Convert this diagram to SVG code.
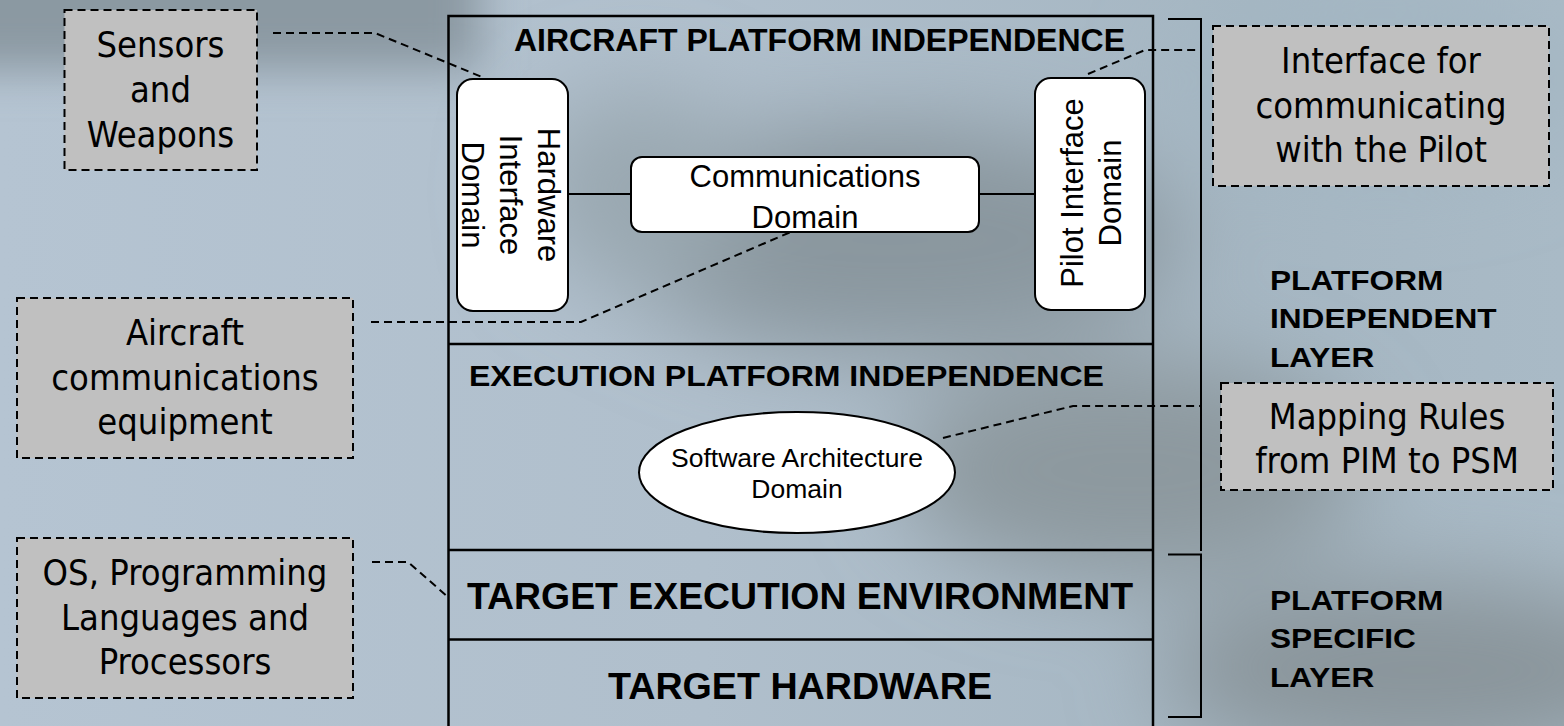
<svg xmlns="http://www.w3.org/2000/svg" width="1564" height="726" viewBox="0 0 1564 726">
  <defs>
    <linearGradient id="bgBase" x1="0" y1="0" x2="1" y2="0">
      <stop offset="0" stop-color="#b5c4d2"/>
      <stop offset="0.45" stop-color="#b0bfcc"/>
      <stop offset="0.8" stop-color="#a5b6c2"/>
      <stop offset="1" stop-color="#a9bac6"/>
    </linearGradient>
    <filter id="haze" x="-50%" y="-50%" width="200%" height="200%">
      <feGaussianBlur stdDeviation="45"/>
    </filter>
    <filter id="softEdge" x="-50%" y="-50%" width="200%" height="200%">
      <feGaussianBlur stdDeviation="22"/>
    </filter>
    <style>
      .frame { fill: none; stroke: #000; stroke-width: 2.5; }
      .node { fill: #fff; stroke: #000; stroke-width: 2; }
      .note { fill: #c0c0c0; stroke: #000; stroke-width: 2; stroke-dasharray: 8 5; }
      .link { fill: none; stroke: #000; stroke-width: 2; }
      .dash { fill: none; stroke: #000; stroke-width: 2; stroke-dasharray: 8 5; }
      .head { font-family: "Liberation Sans", Arial, sans-serif; font-weight: bold; fill: #000; }
      .label { font-family: "Liberation Sans", Arial, sans-serif; fill: #000; text-anchor: middle; }
      .noteText { font-family: "DejaVu Sans", Tahoma, Verdana, sans-serif; font-stretch: semi-condensed; font-size: 36px; fill: #000; text-anchor: middle; }
      .side { font-family: "Liberation Sans", Arial, sans-serif; font-weight: bold; font-size: 28px; fill: #000; }
    </style>
  </defs>

  <!-- backdrop -->
  <g id="backdrop">
    <rect x="0" y="0" width="1564" height="726" fill="url(#bgBase)"/>
    <g filter="url(#haze)">
      <ellipse cx="890" cy="240" rx="290" ry="115" fill="#8a979f"/>
      <ellipse cx="1130" cy="470" rx="230" ry="110" fill="#8d999f"/>
      <ellipse cx="1420" cy="670" rx="260" ry="90" fill="#8a959b"/>
      <ellipse cx="640" cy="190" rx="110" ry="100" fill="#9aa8b1"/>
      <ellipse cx="1380" cy="80" rx="200" ry="90" fill="#a3b6c2"/>
    </g>
    <rect x="-120" y="-120" width="600" height="190" fill="#8b99a2" filter="url(#softEdge)"/>
  </g>

  <!-- layer frame -->
  <g id="layers">
    <rect class="frame" x="448.5" y="16" width="704.5" height="720"/>
    <line class="frame" x1="448.5" y1="344" x2="1153" y2="344"/>
    <line class="frame" x1="448.5" y1="550" x2="1153" y2="550"/>
    <line class="frame" x1="448.5" y1="639.5" x2="1153" y2="639.5"/>
    <text class="head" x="514" y="51" font-size="32" textLength="611" lengthAdjust="spacingAndGlyphs">AIRCRAFT PLATFORM INDEPENDENCE</text>
    <text class="head" x="469" y="386" font-size="30" textLength="635" lengthAdjust="spacingAndGlyphs">EXECUTION PLATFORM INDEPENDENCE</text>
    <text class="head" x="467" y="609" font-size="37" textLength="666" lengthAdjust="spacingAndGlyphs">TARGET EXECUTION ENVIRONMENT</text>
    <text class="head" x="608" y="699" font-size="37" textLength="384" lengthAdjust="spacingAndGlyphs">TARGET HARDWARE</text>
  </g>

  <!-- layer brackets -->
  <g id="brackets">
    <polyline class="link" points="1168,19 1201,19 1201,551"/>
    <polyline class="link" points="1168,554.5 1201,554.5 1201,717 1168,717"/>
    <g transform="translate(1270 0) scale(1.13 1)">
      <text class="side" x="0" y="290">PLATFORM</text>
      <text class="side" x="0" y="328.5">INDEPENDENT</text>
      <text class="side" x="0" y="367">LAYER</text>
      <text class="side" x="0" y="610">PLATFORM</text>
      <text class="side" x="0" y="648.5">SPECIFIC</text>
      <text class="side" x="0" y="687">LAYER</text>
    </g>
  </g>

  <!-- connectors -->
  <g id="connectors">
    <line class="link" x1="568" y1="194" x2="631" y2="194"/>
    <line class="link" x1="979" y1="194" x2="1035" y2="194"/>
    <polyline class="dash" points="273,33 375,33 482,77"/>
    <polyline class="dash" points="1088,74 1145,50 1199,50"/>
    <polyline class="dash" points="371,322 581,322 793,231"/>
    <polyline class="dash" points="943,438 1073,406 1200,406"/>
    <polyline class="dash" points="372,562 408,562 448,597"/>
  </g>

  <!-- domain nodes -->
  <g id="hardware-interface-domain">
    <rect class="node" x="457" y="79" width="111" height="232" rx="16"/>
    <g class="label" font-size="31">
      <text transform="translate(538 195) rotate(90)">Hardware</text>
      <text transform="translate(500 195) rotate(90)">Interface</text>
      <text transform="translate(461.5 195) rotate(90)">Domain</text>
    </g>
  </g>

  <g id="communications-domain">
    <rect class="node" x="631" y="157" width="348" height="75" rx="11"/>
    <g class="label" font-size="31">
      <text x="805" y="187">Communications</text>
      <text x="805" y="228">Domain</text>
    </g>
  </g>

  <g id="pilot-interface-domain">
    <rect class="node" x="1035" y="78" width="110" height="232" rx="16"/>
    <g class="label" font-size="31">
      <text transform="translate(1083 193) rotate(-90)">Pilot Interface</text>
      <text transform="translate(1121 193) rotate(-90)">Domain</text>
    </g>
  </g>

  <g id="software-architecture-domain">
    <ellipse class="node" cx="797" cy="472.5" rx="158" ry="60.5"/>
    <g class="label" font-size="26.5">
      <text x="797" y="467">Software Architecture</text>
      <text x="797" y="498">Domain</text>
    </g>
  </g>

  <!-- annotation notes -->
  <g id="note-sensors">
    <rect class="note" x="64.5" y="10" width="192.5" height="160"/>
    <text class="noteText" x="160.5" y="57">Sensors</text>
    <text class="noteText" x="160.5" y="101.5">and</text>
    <text class="noteText" x="160.5" y="147">Weapons</text>
  </g>

  <g id="note-pilot">
    <rect class="note" x="1213" y="26" width="336" height="160"/>
    <text class="noteText" x="1381" y="73">Interface for</text>
    <text class="noteText" x="1381" y="118">communicating</text>
    <text class="noteText" x="1381" y="162">with the Pilot</text>
  </g>

  <g id="note-comms">
    <rect class="note" x="17" y="298" width="336" height="160"/>
    <text class="noteText" x="185" y="345">Aircraft</text>
    <text class="noteText" x="185" y="389.5">communications</text>
    <text class="noteText" x="185" y="434">equipment</text>
  </g>

  <g id="note-mapping">
    <rect class="note" x="1221" y="383" width="332" height="107"/>
    <text class="noteText" x="1387" y="429">Mapping Rules</text>
    <text class="noteText" x="1387" y="473">from PIM to PSM</text>
  </g>

  <g id="note-platform">
    <rect class="note" x="17" y="538" width="336" height="160"/>
    <text class="noteText" x="185" y="585">OS, Programming</text>
    <text class="noteText" x="185" y="630">Languages and</text>
    <text class="noteText" x="185" y="674">Processors</text>
  </g>
</svg>
